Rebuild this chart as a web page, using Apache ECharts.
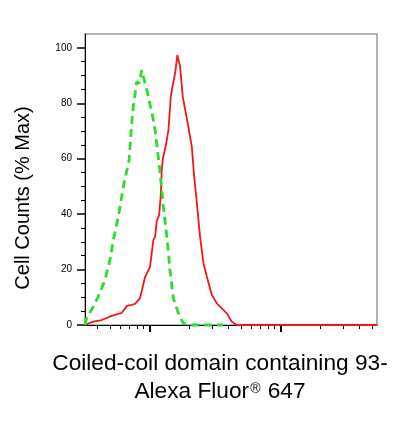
<!DOCTYPE html>
<html>
<head>
<meta charset="utf-8">
<script src="https://cdn.jsdelivr.net/npm/echarts@6/dist/echarts.min.js"></script>
<style>
html,body{margin:0;padding:0;background:#fff;}
#chart{width:412px;height:422px;}
</style>
</head>
<body>
<div id="chart"></div>
<script>
// Fluorescence intensity (log scale) and % of max cell counts
var greenX = [322, 332, 372, 406, 457, 499, 530, 578, 631, 698, 731, 752, 774, 798, 836, 871, 925, 979, 1057, 1102, 1148, 1189, 1239, 1274, 1337, 1393, 1432, 1521, 1660, 1811, 2037, 3639];
var greenY = [0, 2.5, 6.6, 10.2, 16.2, 23.5, 30.7, 39.1, 49.9, 59.5, 72.8, 78.8, 83.0, 87.8, 87.2, 92.0, 87.2, 82.4, 75.2, 70.4, 63.2, 57.1, 48.7, 42.7, 34.3, 26.0, 19.5, 9.5, 4.2, 0.6, 0, 0];

var redX = [322, 372, 432, 514, 614, 650, 676, 735, 774, 845, 925, 1009, 1069, 1102, 1135, 1183, 1216, 1239, 1262, 1337, 1393, 1452, 1503, 1567, 1629, 1710, 1791, 1901, 1977, 2099, 2188, 2296, 2427, 2576, 2735, 2985, 3258, 3556, 3882, 4236, 4634, 54200];
var redY = [0, 1.2, 1.8, 3.3, 4.4, 6.0, 7.0, 7.3, 7.6, 9.6, 17.4, 21.0, 30.7, 31.8, 37.5, 39.7, 46.3, 55.9, 59.9, 65.3, 70.4, 82.4, 86.6, 90.9, 97.4, 93.2, 82.4, 75.8, 71.4, 64.3, 53.7, 43.9, 31.8, 22.3, 17.4, 10.8, 7.8, 6.0, 4.2, 1.2, 0, 0];

var xMin = 322, xMax = 54200;
var xMajorTicks = [1000, 10000];
var xMinorTicks = [400, 500, 600, 700, 800, 900, 2000, 3000, 4000, 5000, 6000, 7000, 8000, 9000, 20000, 30000, 40000, 50000];
var yMin = 0, yMax = 105;
var yMajorTicks = [0, 20, 40, 60, 80, 100];
var yMinorTicks = [5, 10, 15, 25, 30, 35, 45, 50, 55, 65, 70, 75, 85, 90, 95];

var yTitle = 'Cell Counts (% Max)';
var xTitleLine1 = 'Coiled-coil domain containing 93-';
var xTitleLine2 = '{a|Alexa Fluor}{s|®}{a| 647}';

function pairs(xs, ys) { return xs.map(function (x, i) { return [x, ys[i]]; }); }

var FONT = '"Liberation Sans", Arial, sans-serif';
var chart = echarts.init(document.getElementById('chart'), null, {renderer: 'canvas'});
chart.setOption({
  animation: false,
  backgroundColor: '#fff',
  grid: {left: 85, right: 35, top: 34, bottom: 97, show: true, borderColor: '#9a9a9a', borderWidth: 1.5, containLabel: false},
  xAxis: [
    {type: 'log', min: xMin, max: xMax, position: 'bottom',
     axisLine: {show: true, lineStyle: {color: '#000', width: 1}},
     axisTick: {show: true, customValues: xMajorTicks, length: 7, lineStyle: {color: '#000', width: 2}},
     axisLabel: {show: false}, splitLine: {show: false}, minorTick: {show: false}},
    {type: 'log', min: xMin, max: xMax, position: 'bottom',
     axisLine: {show: false},
     axisTick: {show: true, customValues: xMinorTicks, length: 4, lineStyle: {color: '#000', width: 1}},
     axisLabel: {show: false}, splitLine: {show: false}, minorTick: {show: false}}
  ],
  yAxis: [
    {type: 'value', min: yMin, max: yMax, position: 'left',
     axisLine: {show: true, lineStyle: {color: '#000', width: 1}},
     axisTick: {show: true, customValues: yMajorTicks, length: 8, lineStyle: {color: '#000', width: 1.5}},
     axisLabel: {show: true, customValues: yMajorTicks, margin: 13, color: '#000', fontSize: 10, fontFamily: FONT},
     splitLine: {show: false}},
    {type: 'value', min: yMin, max: yMax, position: 'left',
     axisLine: {show: false},
     axisTick: {show: true, customValues: yMinorTicks, length: 4, lineStyle: {color: '#000', width: 1}},
     axisLabel: {show: false}, splitLine: {show: false}}
  ],
  series: [
    {type: 'line', xAxisIndex: 0, yAxisIndex: 0, data: pairs(redX, redY), showSymbol: false, clip: false,
     lineStyle: {color: '#f01818', width: 1.8}, z: 3},
    {type: 'line', xAxisIndex: 0, yAxisIndex: 0, data: pairs(greenX, greenY), showSymbol: false, clip: false,
     lineStyle: {color: '#2edc2e', width: 2.8, type: [8, 5]}, z: 4}
  ],
  graphic: [
    {type: 'text', x: 23, y: 198, rotation: Math.PI / 2,
     style: {text: yTitle, font: '20px ' + FONT, fill: '#000', textAlign: 'center', textVerticalAlign: 'middle'}},
    {type: 'text', x: 220, y: 364,
     style: {text: xTitleLine1, font: '22.7px ' + FONT, fill: '#000', textAlign: 'center', textVerticalAlign: 'middle'}},
    {type: 'text', x: 220, y: 392,
     style: {text: xTitleLine2, fill: '#000', textAlign: 'center', textVerticalAlign: 'middle',
       rich: {a: {fontSize: 22.7, fontFamily: FONT, color: '#000', lineHeight: 26, verticalAlign: 'middle'},
              s: {fontSize: 14, fontFamily: FONT, color: '#000', lineHeight: 14, verticalAlign: 'top', padding: [3, 1, 0, 1]}}}}
  ]
});
</script>
</body>
</html>
